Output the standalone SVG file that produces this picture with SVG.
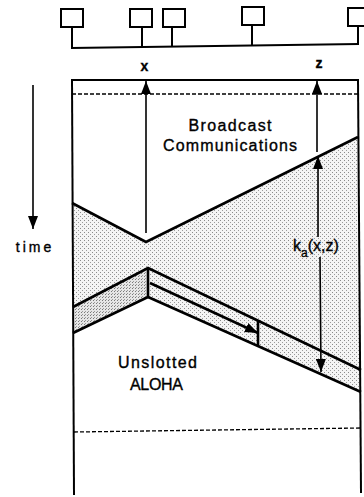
<svg xmlns="http://www.w3.org/2000/svg" width="364" height="497" viewBox="0 0 364 497">
<style>
.box{fill:#fff;stroke:#000;stroke-width:2}
.ln{fill:none;stroke:#000;stroke-width:2}
.thick{fill:none;stroke:#000;stroke-width:2.6;stroke-linejoin:miter}
.thin{fill:none;stroke:#000;stroke-width:1.6}
.dash{fill:none;stroke:#000;stroke-width:1.3;stroke-dasharray:4 2}
.txt{font-family:"Liberation Sans",Arial,Helvetica,sans-serif;fill:#000;stroke:#000;stroke-width:0.35;text-anchor:middle}
</style>
<defs>
<pattern id="stip" width="4" height="4" patternUnits="userSpaceOnUse">
<rect width="4" height="4" fill="#f4f4f4"/>
<rect x="0" y="0" width="1" height="1" fill="#8a8a8a"/>
<rect x="2" y="2" width="1" height="1" fill="#9a9a9a"/>
</pattern>
<pattern id="stipD" width="3" height="3" patternUnits="userSpaceOnUse">
<rect width="3" height="3" fill="#e6e6e6"/>
<rect x="0" y="0" width="1" height="1" fill="#7a7a7a"/>
<rect x="1" y="2" width="1" height="1" fill="#9a9a9a"/>
</pattern>
<marker id="ah" viewBox="0 0 13 10" refX="13" refY="5" markerWidth="13" markerHeight="10" markerUnits="userSpaceOnUse" orient="auto">
<path d="M0,0 L13,5 L0,10 z" fill="#000"/>
</marker>
</defs>

<g id="stations">
<g id="station1"><rect class="box" x="61" y="9" width="22" height="18"/><line class="ln" x1="72" y1="27" x2="72" y2="48"/></g>
<g id="station2"><rect class="box" x="130" y="9" width="22" height="18"/><line class="ln" x1="142" y1="27" x2="142" y2="47"/></g>
<g id="station3"><rect class="box" x="163" y="9" width="22" height="18"/><line class="ln" x1="172" y1="27" x2="172" y2="46.6"/></g>
<g id="station4"><rect class="box" x="242" y="7" width="22" height="18"/><line class="ln" x1="252" y1="25" x2="252" y2="45.5"/></g>
<g id="station5"><rect class="box" x="348" y="8" width="22" height="18"/><line class="ln" x1="358" y1="26" x2="358" y2="44"/></g>
<line id="bus" class="ln" x1="71" y1="48" x2="359" y2="44"/>
</g>

<g id="regions">
<polygon id="hourglass" points="72,203 146,242 358,137 360,370 148,268 73,307" fill="url(#stip)"/>
<polygon id="band-left" points="73,307 148,268 148,297 73,333" fill="url(#stipD)"/>
<polygon id="band-right" points="148,268 361,370 361,392 148,297" fill="url(#stip)"/>
</g>

<g id="frame">
<line class="ln" x1="71" y1="80" x2="359" y2="80"/>
<line class="ln" x1="72" y1="80" x2="74" y2="495"/>
<line class="ln" x1="358" y1="80" x2="361" y2="493"/>
<line class="dash" x1="72" y1="94" x2="358" y2="94"/>
<line class="dash" x1="74" y1="432" x2="361" y2="428"/>
</g>

<g id="transmissions">
<polyline id="broadcast-wave" class="thick" points="72,203 146,242 358,137"/>
<polyline id="aloha-top" class="thick" points="73,307 148,268 361,370"/>
<polyline id="aloha-bottom" class="thick" points="73,333 148,297 361,392"/>
<line class="thick" x1="148" y1="268" x2="148" y2="297"/>
<line class="thick" x1="258" y1="320" x2="258" y2="346"/>
</g>

<g id="connectors">
<line id="time-arrow" class="thin" x1="33" y1="85" x2="33" y2="229" marker-end="url(#ah)"/>
<line id="x-arrow" class="thin" x1="146" y1="233" x2="146" y2="81" marker-end="url(#ah)"/>
<line id="z-arrow" class="thin" x1="317" y1="152" x2="317" y2="81" marker-end="url(#ah)"/>
<line id="ka-up" class="thin" x1="318" y1="237" x2="318" y2="156" marker-end="url(#ah)"/>
<line id="ka-down" class="thin" x1="320" y1="257" x2="321" y2="372" marker-end="url(#ah)"/>
<line id="inner-arrow" class="thick" x1="150" y1="283" x2="258" y2="333" marker-end="url(#ah)"/>
</g>

<g id="labels">
<text class="txt" x="144.5" y="71" font-size="14" font-weight="bold">x</text>
<text class="txt" x="319" y="68" font-size="14" font-weight="bold">z</text>
<text class="txt" x="35" y="252" font-size="14" letter-spacing="3">time</text>
<text class="txt" x="230" y="131" font-size="16" textLength="83" lengthAdjust="spacing">Broadcast</text>
<text class="txt" x="230" y="151" font-size="16" textLength="134" lengthAdjust="spacing">Communications</text>
<text class="txt" x="157.5" y="368" font-size="16" textLength="79" lengthAdjust="spacing">Unslotted</text>
<text class="txt" x="156.5" y="390" font-size="16" textLength="53" lengthAdjust="spacing">ALOHA</text>
<text class="txt" x="293" y="251" font-size="16" style="text-anchor:start">k<tspan font-size="12" dy="6">a</tspan><tspan dy="-6">(x,z)</tspan></text>
</g>
</svg>
